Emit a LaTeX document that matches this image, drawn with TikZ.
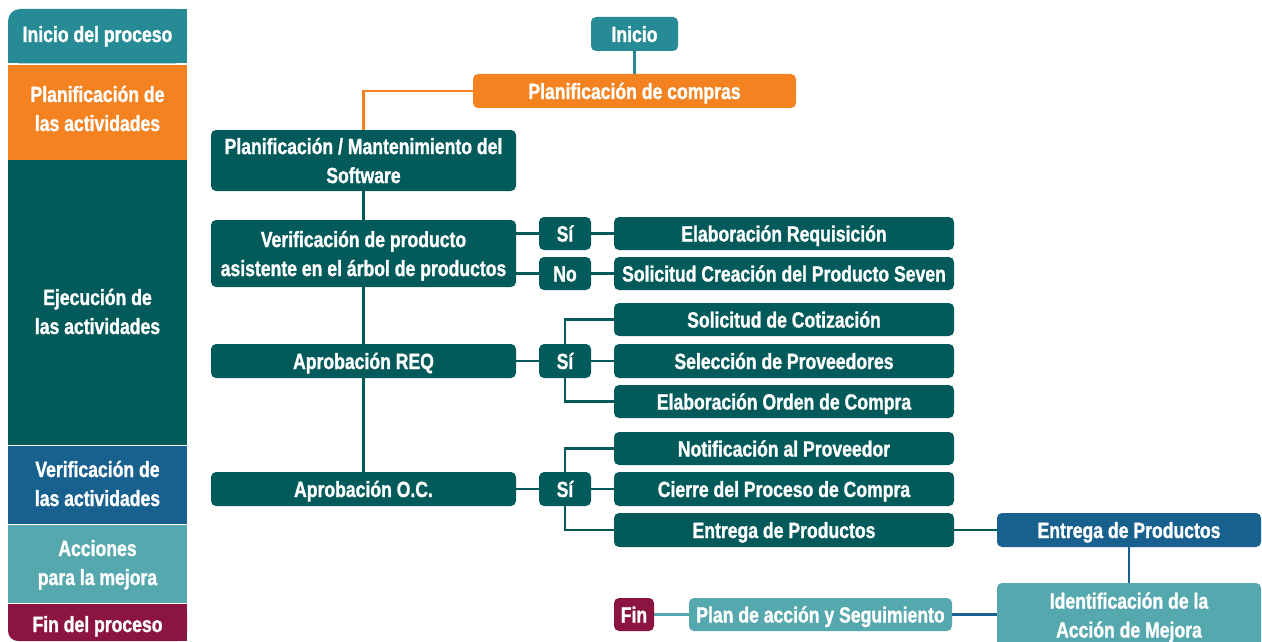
\documentclass[tikz,border=0pt]{standalone}
\usepackage{fontspec}
\setmainfont{Liberation Sans}[FakeStretch=0.8, BoldFeatures={FakeBold=1.2}]
\usetikzlibrary{backgrounds}
\definecolor{cTeal}{RGB}{39,139,150}
\definecolor{cOrange}{RGB}{245,130,32}
\definecolor{cDark}{RGB}{2,90,90}
\definecolor{cBlue}{RGB}{24,96,142}
\definecolor{cLight}{RGB}{85,168,174}
\definecolor{cMaroon}{RGB}{140,20,64}
\begin{document}
\begin{tikzpicture}[x=1pt,y=-1pt,
  txt/.style={inner sep=0pt, text=white, align=center, font=\fontsize{22}{29}\selectfont\bfseries},
  box/.style={txt, rounded corners=5pt, text depth=0pt},
  one/.style={box, text height=16pt},
  link/.style={line width=2.6pt},
]
\useasboundingbox (0,0) rectangle (1262,642);

% left band
\fill[cTeal, rounded corners=12pt] (8,9) rectangle (187,63.5);
\fill[cTeal] (8,30) rectangle (187,63.5);
\fill[cTeal] (60,9) rectangle (187,63.5);
\fill[cOrange] (8,65) rectangle (187,160);
\fill[cDark] (8,160) rectangle (187,444.5);
\fill[cBlue] (8,446) rectangle (187,523.5);
\fill[cLight] (8,525) rectangle (187,602.5);
\fill[cMaroon, rounded corners=10pt] (8,604) rectangle (187,641);
\fill[cMaroon] (8,604) rectangle (187,620);
\fill[cMaroon] (60,604) rectangle (187,641);

\node[txt, anchor=base] (l1) at (97.5,42) {Inicio del proceso};
\node[txt, anchor=base] (l2) at (97.5,131) {Planificación de\\las actividades};
\node[txt, anchor=base] (l3) at (97.5,334) {Ejecución de\\las actividades};
\node[txt, anchor=base] (l4) at (97.5,506) {Verificación de\\las actividades};
\node[txt, anchor=base] (l5) at (97.5,585) {Acciones\\para la mejora};
\node[txt, anchor=base] (l6) at (97.5,632) {Fin del proceso};

% nodes
\node[one, fill=cTeal, minimum width=87pt, minimum height=34pt] (inicio) at (634.5,34) {Inicio};
\node[one, fill=cOrange, minimum width=323pt, minimum height=34pt] (plan) at (634.5,91) {Planificación de compras};
\node[box, fill=cDark, minimum width=305pt, minimum height=61pt] (mant) at (363.5,160.5) {Planificación / Mantenimiento del\\Software};
\node[box, fill=cDark, minimum width=305pt, minimum height=67pt] (verif) at (363.5,253.5) {Verificación de producto\\asistente en el árbol de productos};
\node[one, fill=cDark, minimum width=52pt, minimum height=33pt] (si1) at (565,233.5) {Sí};
\node[one, fill=cDark, minimum width=52pt, minimum height=33pt] (no) at (565,273.5) {No};
\node[one, fill=cDark, minimum width=340pt, minimum height=33pt] (elabreq) at (784,233.5) {Elaboración Requisición};
\node[one, fill=cDark, minimum width=340pt, minimum height=33pt] (solcre) at (784,273.5) {Solicitud Creación del Producto Seven};
\node[one, fill=cDark, minimum width=340pt, minimum height=33pt] (solcot) at (784,319.5) {Solicitud de Cotización};
\node[one, fill=cDark, minimum width=305pt, minimum height=34pt] (aprreq) at (363.5,361) {Aprobación REQ};
\node[one, fill=cDark, minimum width=52pt, minimum height=34pt] (si2) at (565,361) {Sí};
\node[one, fill=cDark, minimum width=340pt, minimum height=34pt] (selprov) at (784,361) {Selección de Proveedores};
\node[one, fill=cDark, minimum width=340pt, minimum height=33pt] (elaboc) at (784,401.5) {Elaboración Orden de Compra};
\node[one, fill=cDark, minimum width=340pt, minimum height=33pt] (notif) at (784,448.5) {Notificación al Proveedor};
\node[one, fill=cDark, minimum width=305pt, minimum height=34pt] (aproc) at (363.5,489) {Aprobación O.C.};
\node[one, fill=cDark, minimum width=52pt, minimum height=34pt] (si3) at (565,489) {Sí};
\node[one, fill=cDark, minimum width=340pt, minimum height=34pt] (cierre) at (784,489) {Cierre del Proceso de Compra};
\node[one, fill=cDark, minimum width=340pt, minimum height=34pt] (entrega1) at (784,530) {Entrega de Productos};
\node[one, fill=cBlue, minimum width=264pt, minimum height=34pt] (entrega2) at (1129,530) {Entrega de Productos};
\node[box, fill=cLight, minimum width=264pt, minimum height=64pt] (ident) at (1129,615) {Identificación de la\\Acción de Mejora};
\node[one, fill=cMaroon, minimum width=40pt, minimum height=33pt] (fin) at (634,614.5) {Fin};
\node[one, fill=cLight, minimum width=263pt, minimum height=33pt] (planacc) at (820.5,614.5) {Plan de acción y Seguimiento};

% connectors
\begin{scope}[on background layer]
\draw[link, cTeal] (inicio.south) -- (plan.north);
\draw[link, cOrange] (plan.west) -| (mant.north);
\draw[link, cDark] (mant.south) -- (aproc.north);
\draw[link, cDark] (verif.east |- si1.west) -- (si1.west);
\draw[link, cDark] (verif.east |- no.west) -- (no.west);
\draw[link, cDark] (si1) -- (elabreq);
\draw[link, cDark] (no) -- (solcre);
\draw[link, cDark] (aprreq) -- (si2);
\draw[link, cDark] (si2) -- (selprov);
\draw[link, cDark] (solcot.west) -| (si2.north);
\draw[link, cDark] (elaboc.west) -| (si2.south);
\draw[link, cDark] (aproc) -- (si3);
\draw[link, cDark] (si3) -- (cierre);
\draw[link, cDark] (notif.west) -| (si3.north);
\draw[link, cDark] (entrega1.west) -| (si3.south);
\draw[link, cDark] (entrega1) -- (entrega2);
\draw[link, cBlue] (entrega2) -- (ident);
\draw[link, cBlue] (planacc.east) -- (planacc.east -| ident.west);
\draw[link, cLight] (fin) -- (planacc);
\end{scope}
\end{tikzpicture}
\end{document}
